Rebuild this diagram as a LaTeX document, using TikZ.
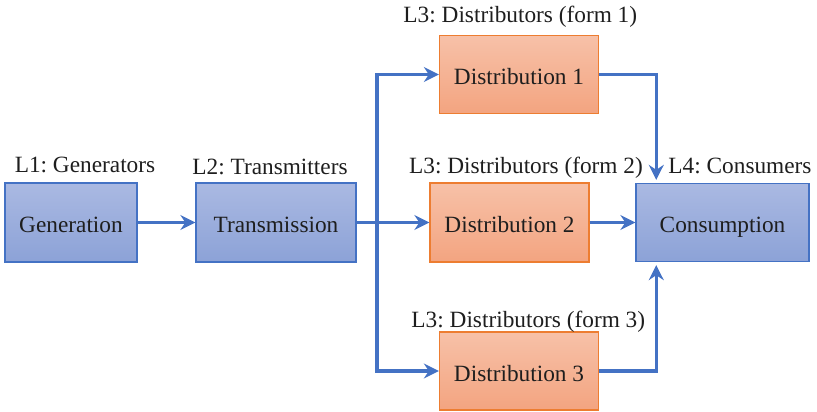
\documentclass[tikz,border=0pt]{standalone}
\usepackage{fontspec}
\setmainfont{Liberation Serif}
\newfontfamily\tnr{Liberation Serif}
\frenchspacing
\usetikzlibrary{arrows.meta,calc}
\definecolor{bluebd}{RGB}{68,114,196}
\definecolor{bluetop}{RGB}{170,185,226}
\definecolor{bluebot}{RGB}{140,162,215}
\definecolor{orbd}{RGB}{237,125,49}
\definecolor{ortop}{RGB}{247,193,168}
\definecolor{orbot}{RGB}{243,164,128}
\definecolor{txt}{RGB}{30,30,30}
\tikzset{
  bluebox/.style={draw=bluebd, line width=1.3pt, top color=bluetop, bottom color=bluebot, minimum height=79pt, inner sep=0pt, text height=20pt, text depth=0pt, font=\tnr\frenchspacing\fontsize{23.3}{28}\selectfont, text=txt},
  orbox/.style={draw=orbd, line width=1.3pt, top color=ortop, bottom color=orbot, minimum height=78pt, minimum width=159pt, inner sep=0pt, text height=20pt, text depth=0pt, font=\tnr\frenchspacing\fontsize{23.3}{28}\selectfont, text=txt},
  lbl/.style={anchor=base, inner sep=0pt, font=\tnr\frenchspacing\fontsize{23.3}{28}\selectfont, text=txt},
  conn/.style={draw=bluebd, line width=3.3pt, -{Stealth[length=15pt,width=15pt,inset=5pt]}}
}
\begin{document}
\begin{tikzpicture}[x=1pt,y=-1pt]
\useasboundingbox (0,0) rectangle (817,412);
\node[bluebox, minimum width=132pt] (gen) at (71,222.5) {Generation};
\node[bluebox, minimum width=160pt] (trans) at (276,222.5) {Transmission};
\node[orbox] (d1) at (519,74.5) {Distribution 1};
\node[orbox, minimum height=79pt] (d2) at (509.5,222.5) {Distribution 2};
\node[orbox] (d3) at (519,371) {Distribution 3};
\node[bluebox, minimum width=173pt, minimum height=78pt] (cons) at (722.5,222.5) {Consumption};

\node[lbl] (l1) at (85,172) {L1: Generators};
\node[lbl] (l2) at (270,174) {L2: Transmitters};
\node[lbl] (l3a) at (520.3,23) {L3: Distributors (form 1)};
\node[lbl] (l3b) at (526,173.3) {L3: Distributors (form 2)};
\node[lbl] (l3c) at (528.3,327) {L3: Distributors (form 3)};
\node[lbl] (l4) at (740,173) {L4: Consumers};

\coordinate (j) at (377,222.5);
\coordinate (ct) at ($(cons.north west)!0.12!(cons.north east)$);
\coordinate (cb) at ($(cons.south west)!0.12!(cons.south east)$);

\draw[conn] (gen) -- (trans);
\draw[conn] (trans) -- (d2);
\draw[conn] (j) |- (d1);
\draw[conn] (j) |- (d3);
\draw[conn] (d2) -- (cons);
\draw[conn, shorten >=3pt] (d1) -| (ct);
\draw[conn, shorten >=3pt] (d3) -| (cb);
\end{tikzpicture}
\end{document}
